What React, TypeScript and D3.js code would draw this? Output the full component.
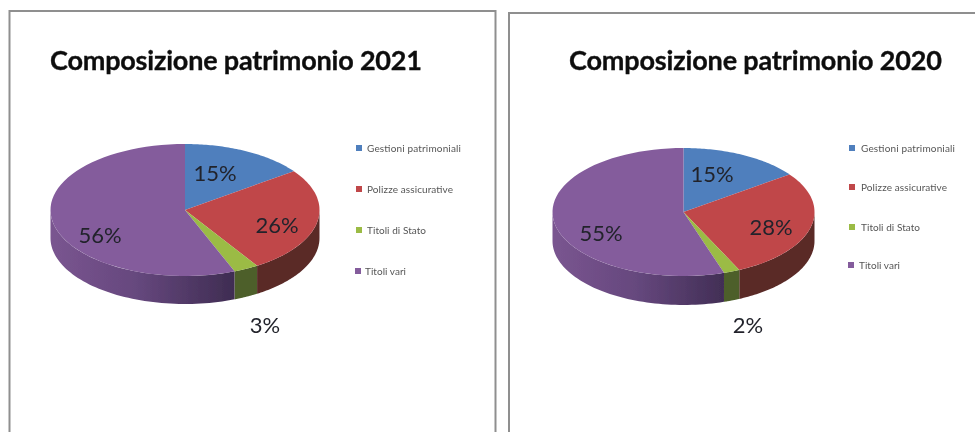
import React from "react";
import * as d3 from "d3";

const categories = ["Gestioni patrimoniali", "Polizze assicurative", "Titoli di Stato", "Titoli vari"];
const values2021 = [15, 26, 3, 56];
const values2020 = [15, 28, 2, 55];
const topColors = ["#4f7fbd", "#c0474a", "#9bbb45", "#845c9c"];
const sideColors = ["#34557e", "#5a2a28", "#4d5f2a", "#5c4272"];

const FONT = "Lato, Carlito, 'Open Sans', sans-serif";

type PanelCfg = {
  id: string; title: string; values: number[];
  titleX: number; titleW: number; titleY: number;
  cx: number; cy: number; rx: number; ry: number; depth: number;
  labels: [number, number][];
  legendSwatch: number; legendText: number; legendW: number[]; legendY: number[];
};

const panels: PanelCfg[] = [
  {
    id: "a", title: "Composizione patrimonio 2021", values: values2021,
    titleX: 50, titleW: 372, titleY: 70,
    cx: 185, cy: 210, rx: 134.5, ry: 66, depth: 28,
    labels: [[215, 173], [277, 225], [265, 325], [100, 235]],
    legendSwatch: 356, legendText: 367, legendW: [94, 86, 59, 41],
    legendY: [148, 189, 230, 271],
  },
  {
    id: "b", title: "Composizione patrimonio 2020", values: values2020,
    titleX: 569, titleW: 373, titleY: 70,
    cx: 683.5, cy: 212, rx: 131, ry: 64, depth: 29,
    labels: [[712, 174], [771, 227], [748, 325], [601, 233]],
    legendSwatch: 849, legendText: 861, legendW: [94, 86, 59, 41],
    legendY: [148, 187, 227, 265],
  },
];

function Panel({ p }: { p: PanelCfg }) {
  const arcs = d3.pie<number>().sort(null).value((d) => d)(p.values);
  const px = d3.scaleLinear().domain([-1, 1]).range([p.cx - p.rx, p.cx + p.rx]);
  const py = d3.scaleLinear().domain([-1, 1]).range([p.cy - p.ry, p.cy + p.ry]);
  const rim = (a: number, dz = 0): [number, number] => [px(Math.sin(a)), py(-Math.cos(a)) + dz];
  const line = d3.line();
  const samples = (a0: number, a1: number) => d3.range(0, 61).map((i) => a0 + ((a1 - a0) * i) / 60);

  const topPath = (a0: number, a1: number) =>
    line([[p.cx, p.cy], ...samples(a0, a1).map((a) => rim(a))])! + "Z";
  const sidePath = (a0: number, a1: number) => {
    const lo = Math.max(a0, Math.PI / 2);
    const hi = Math.min(a1, (3 * Math.PI) / 2);
    if (hi <= lo) return null;
    const s = samples(lo, hi);
    return line([...s.map((a) => rim(a)), ...s.slice().reverse().map((a) => rim(a, p.depth))])! + "Z";
  };

  const gradId = `side-${p.id}`;
  return (
    <g>
      <defs>
        <linearGradient id={gradId} gradientUnits="userSpaceOnUse" x1={p.cx - p.rx} x2={p.cx + p.rx * 0.4} y1={0} y2={0}>
          <stop offset="0" stopColor="#7a5590" />
          <stop offset="0.45" stopColor="#66487e" />
          <stop offset="1" stopColor="#3d2b50" />
        </linearGradient>
      </defs>
      <text x={p.titleX} y={p.titleY} fontFamily={FONT} fontWeight={700} fontSize={27}
        textLength={p.titleW} lengthAdjust="spacing" fill="#111" stroke="#111" strokeWidth={0.35}>{p.title}</text>
      {arcs.map((a, i) => {
        const d = sidePath(a.startAngle, a.endAngle);
        return d ? <path key={i} d={d} fill={i === 3 ? `url(#${gradId})` : sideColors[i]} /> : null;
      })}
      {arcs.map((a, i) => (
        <path key={i} d={topPath(a.startAngle, a.endAngle)} fill={topColors[i]} />
      ))}
      {p.values.map((v, i) => (
        <text key={i} x={p.labels[i][0]} y={p.labels[i][1]} dy="0.35em" textAnchor="middle"
          fontFamily={FONT} fontSize={22} fill="#22242c">{v}%</text>
      ))}
      {categories.map((c, i) => (
        <g key={c}>
          <rect x={p.legendSwatch - (i === 3 ? 1 : 0)} y={p.legendY[i] - 3} width={6} height={6} fill={topColors[i]} />
          <text x={p.legendText - (i === 3 ? 2 : 0)} y={p.legendY[i]} dy="0.35em" fontFamily={FONT} fontSize={10}
            textLength={p.legendW[i]} lengthAdjust="spacing" fill="#555">{c}</text>
        </g>
      ))}
    </g>
  );
}

export default function App() {
  return (
    <svg width={975} height={432} viewBox="0 0 975 432"
      style={{ position: "absolute", left: 0, top: 0, background: "#fff", display: "block" }}>
      <defs>
        <filter id="soft" x="-2%" y="-2%" width="104%" height="104%">
          <feGaussianBlur stdDeviation="0.5" />
        </filter>
      </defs>
      <g filter="url(#soft)">
        <path d="M9.5,440V11H495.5V440" fill="none" stroke="#8f8f8f" strokeWidth={2} />
        <path d="M509,440V13H985" fill="none" stroke="#8f8f8f" strokeWidth={2} />
        {panels.map((p) => <Panel key={p.id} p={p} />)}
      </g>
    </svg>
  );
}
